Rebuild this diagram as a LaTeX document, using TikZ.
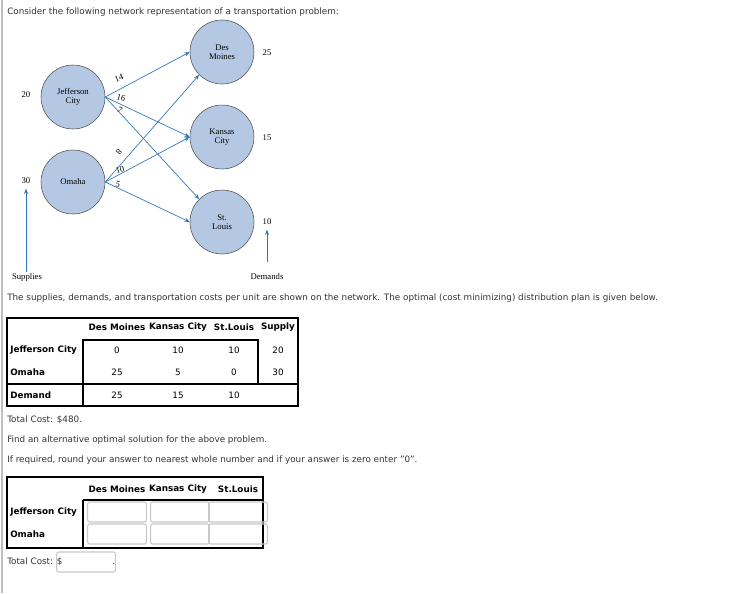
\documentclass[tikz,border=0pt]{standalone}
\usepackage{fontspec}
\setmainfont{DejaVu Sans}
\newfontfamily\serifnet{Liberation Serif}
\usetikzlibrary{arrows.meta}
\definecolor{nodefill}{HTML}{B4C8E4}
\definecolor{arrowblue}{HTML}{2E75B6}
\definecolor{txt}{HTML}{333333}
\definecolor{boxgray}{HTML}{C8C8C8}
\tikzset{
  city/.style={circle,draw=black!70,fill=nodefill,minimum size=48,inner sep=0pt,font=\serifnet\fontsize{6.5}{6.5}\selectfont,align=center},
  net/.style={font=\serifnet\fontsize{6.5}{7}\selectfont},
  flow/.style={draw=arrowblue,-{Stealth[length=4pt,width=3pt]},line width=0.5pt},
  ui/.style={font=\fontsize{6.6}{8}\selectfont,text=txt,anchor=west,inner sep=0pt},
  th/.style={font=\bfseries\fontsize{6.6}{8}\selectfont,inner sep=0pt},
  td/.style={font=\fontsize{6.6}{8}\selectfont,inner sep=0pt},
  inbox/.style={draw=boxgray,rounded corners=1.5pt,line width=0.8pt,minimum width=44,minimum height=15,inner sep=0pt},
}
\begin{document}
\begin{tikzpicture}[x=0.75pt,y=-0.75pt]
\useasboundingbox (0,0) rectangle (741,593);
\draw[draw=black!25,line width=1pt] (2,0) -- (2,593);
\node[ui] (t1) at (7,12) {Consider the following network representation of a transportation problem:};
% network
\node[city] (jc) at (73,97) {Jefferson\\City};
\node[city] (om) at (73,182) {Omaha};
\node[city] (dm) at (222,52) {Des\\Moines};
\node[city] (kc) at (222,137) {Kansas\\City};
\node[city] (sl) at (222,222) {St.\\Louis};
\draw[flow] (jc.east) -- (dm.west);
\draw[flow] (jc.east) -- (kc.west);
\draw[flow] (jc.east) -- (sl.north west);
\draw[flow] (om.east) -- (dm.south west);
\draw[flow] (om.east) -- (kc.west);
\draw[flow] (om.east) -- (sl.west);
\node[net,rotate=20] (c14) at (119,78) {14};
\node[net,rotate=-15] (c16) at (121,98) {16};
\node[net,rotate=-30] (c7) at (120,110) {7};
\node[net,rotate=-130] (c8) at (119,152) {8};
\node[net,rotate=15] (c10) at (120,170) {10};
\node[net,rotate=-15] (c5) at (118,184) {5};
\node[net] (s20) at (26,95) {20};
\node[net] (s30) at (26,181) {30};
\node[net] (d25) at (267,53) {25};
\node[net] (d15) at (267,138) {15};
\node[net] (d10) at (267,222) {10};
\node[net] (sup) at (27,277) {Supplies};
\node[net] (dem) at (267,277) {Demands};
\coordinate (sa) at (26,272);
\coordinate (da) at (267,262);
\draw[flow] (sa) -- (s30.south);
\draw[flow] (da) -- (d10.south);
\node[ui] (t2) at (7,298) {The supplies, demands, and transportation costs per unit are shown on the network. The optimal (cost minimizing) distribution plan is given below.};
% table 1
\draw[line width=0.8pt] (7,318) rectangle (298,406);
\draw[line width=0.8pt] (83,340) rectangle (258,384);
\draw[line width=0.8pt] (7,384) -- (298,384);
\draw[line width=0.8pt] (83,384) -- (83,406);
\foreach \x/\t in {117/Des Moines,178/Kansas City,234/St.Louis,278/Supply}
  \node[th] at (\x,327) {\t};
\node[th,anchor=west] (r1) at (10,350) {Jefferson City};
\node[th,anchor=west] (r2) at (10,372) {Omaha};
\node[th,anchor=west] (r3) at (10,395) {Demand};
\foreach \x/\a/\b/\c in {117/0/25/25,178/10/5/15,234/10/0/10}{
  \node[td] at (\x,350) {\a};
  \node[td] at (\x,372) {\b};
  \node[td] at (\x,395) {\c};}
\node[td] at (278,350) {20};
\node[td] at (278,372) {30};
\node[ui] (t3) at (7,420) {Total Cost: \$480.};
\node[ui] (t4) at (7,440) {Find an alternative optimal solution for the above problem.};
\node[ui] (t5) at (7,460) {If required, round your answer to nearest whole number and if your answer is zero enter "0".};
% table 2
\draw[line width=0.8pt] (7,477) rectangle (263,548);
\draw[line width=0.8pt] (83,500) -- (263,500);
\draw[line width=0.8pt] (83,500) -- (83,548);
\foreach \x/\t in {117/Des Moines,178/Kansas City,238/St.Louis}
  \node[th] at (\x,489) {\t};
\node[th,anchor=west] (q1) at (10,512) {Jefferson City};
\node[th,anchor=west] (q2) at (10,534) {Omaha};
\foreach \x in {117,180,238}{
  \node[inbox] at (\x,512) {};
  \node[inbox] at (\x,534) {};}
\node[ui] (t6) at (7,562) {Total Cost: \$};
\node[inbox] (tb) at (86,562) {};
\node[ui] (dot) at (112,564) {.};
\end{tikzpicture}
\end{document}
